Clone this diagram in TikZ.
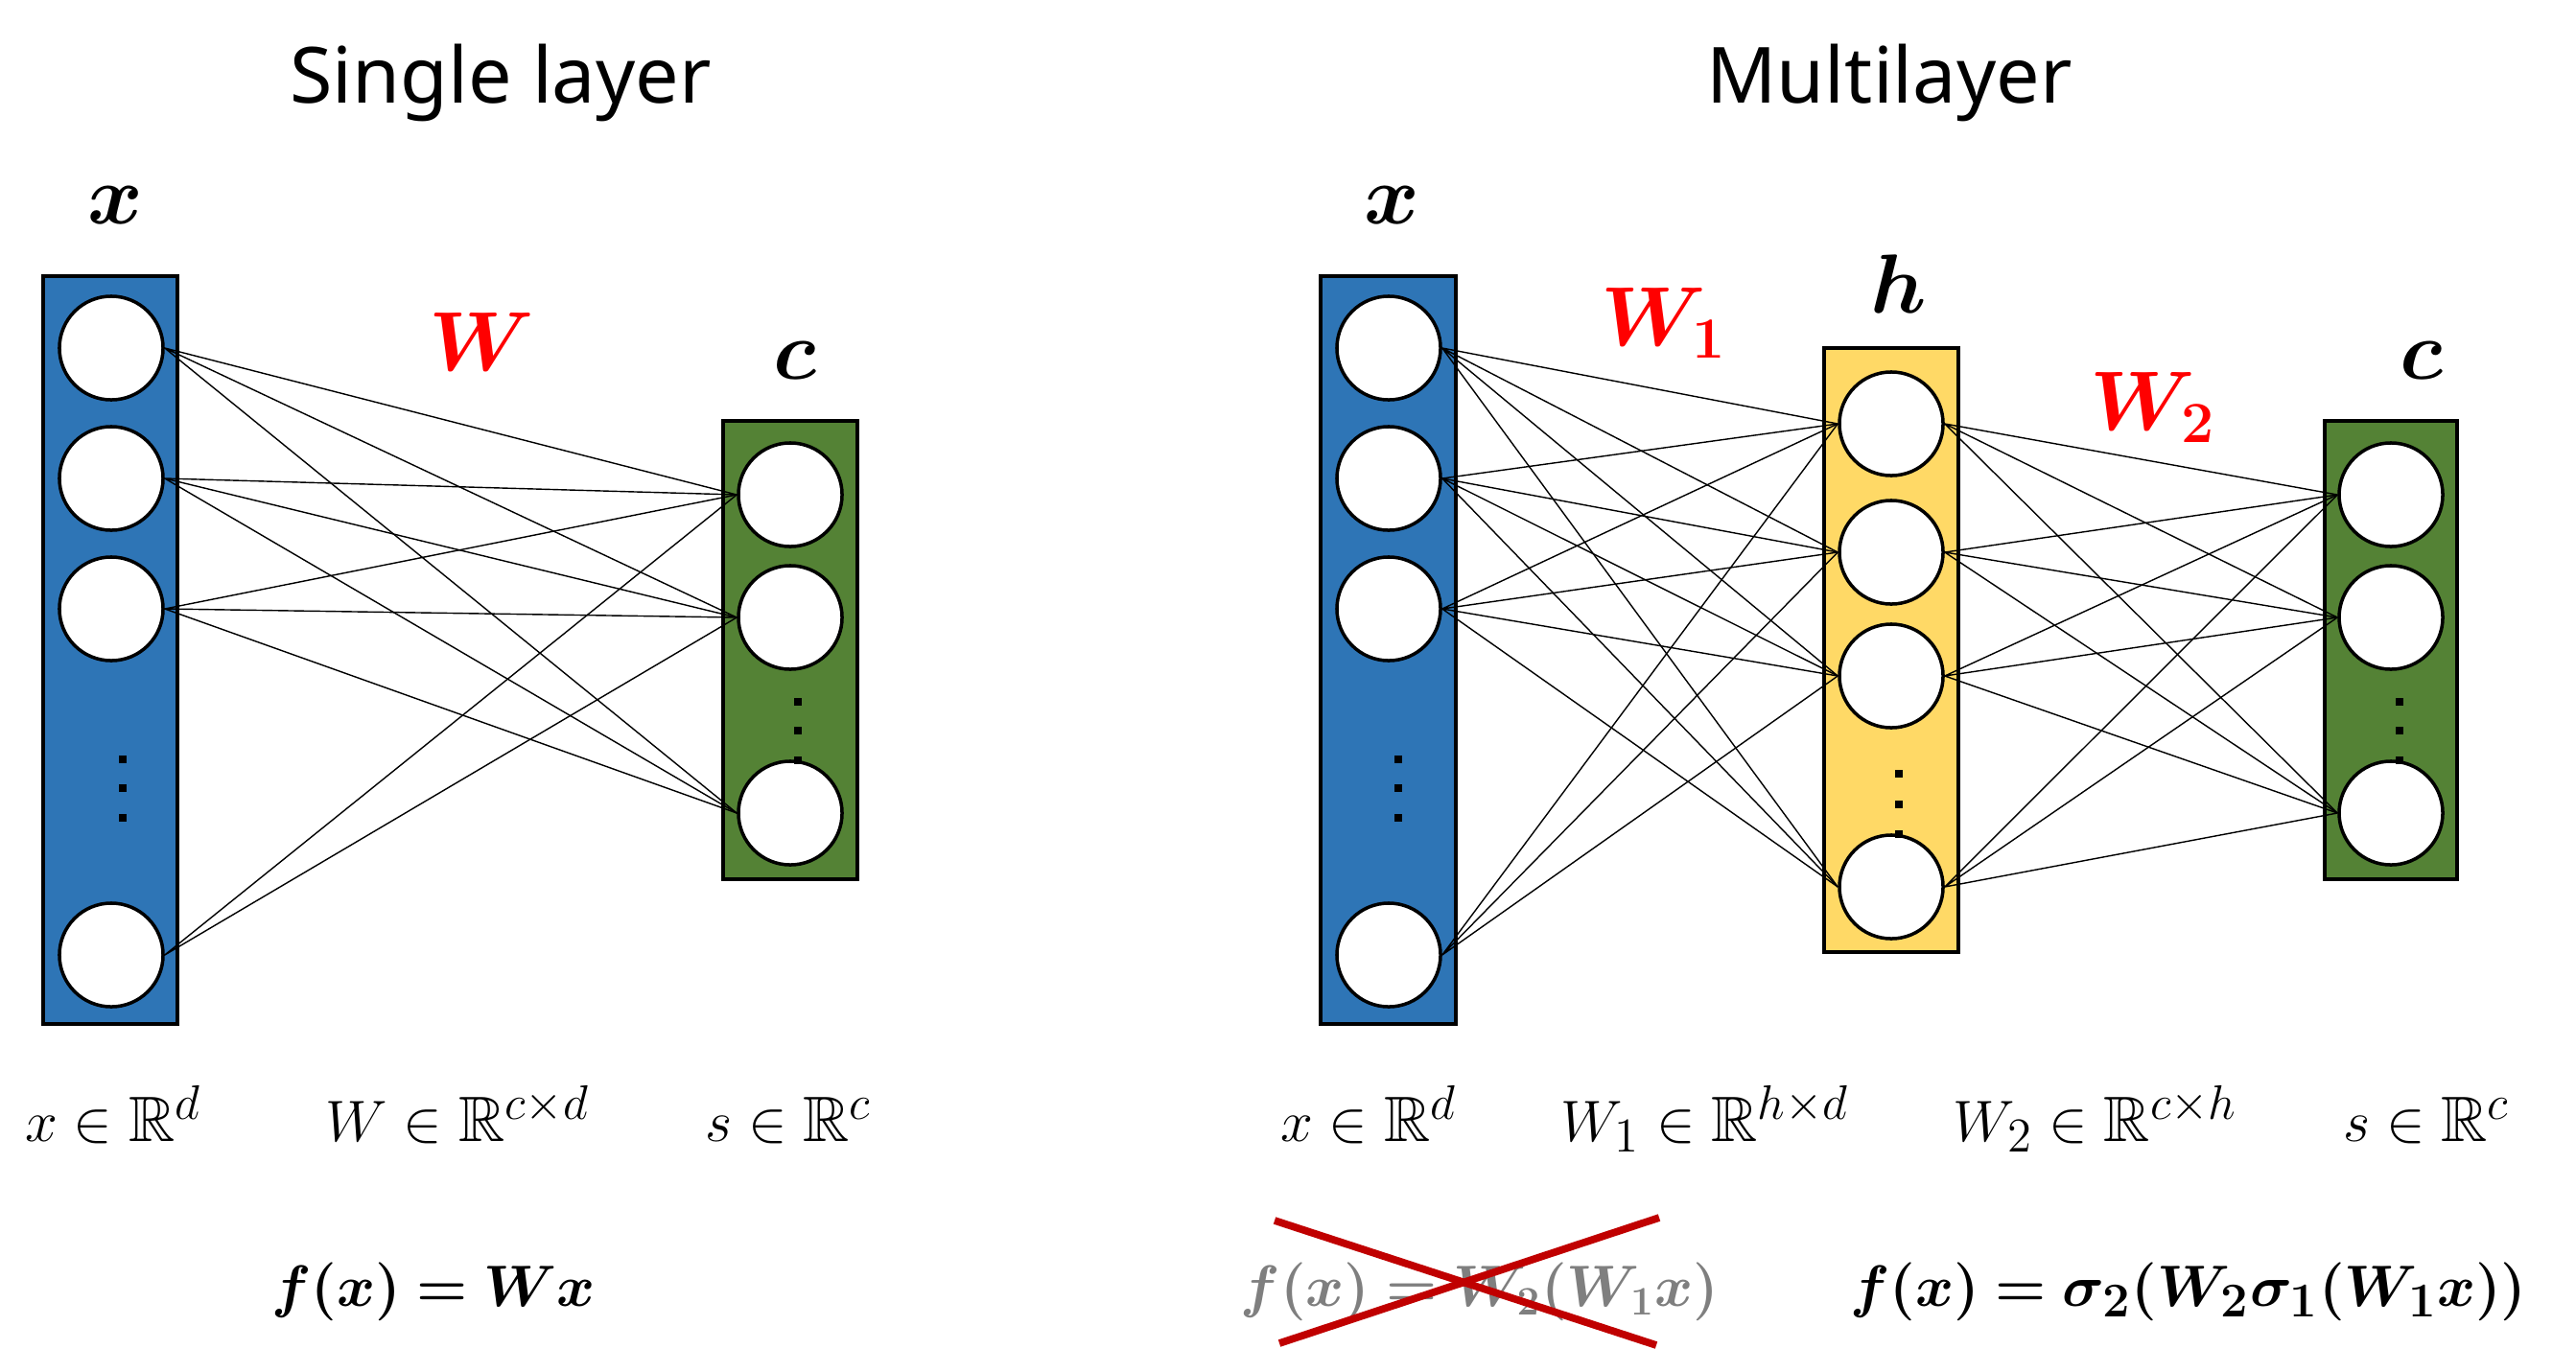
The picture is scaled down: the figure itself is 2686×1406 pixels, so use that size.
\documentclass[tikz,border=0pt]{standalone}
\usepackage{amsmath,amssymb,bm}
\usepackage{fontspec}
\newfontfamily\titlefont{Noto Sans}
\definecolor{xblue}{HTML}{2E75B6}
\definecolor{cgreen}{HTML}{548235}
\definecolor{hyellow}{HTML}{FFD966}
\definecolor{wred}{HTML}{FF0000}
\definecolor{crossred}{HTML}{C00000}
\definecolor{oldgray}{HTML}{7F7F7F}
\begin{document}
\begin{tikzpicture}[x=0.01cm,y=-0.01cm,
  neuron/.style={circle,draw,line width=1pt,fill=white,minimum size=1.08cm,inner sep=0pt},
  layerbox/.style={draw,line width=1.3pt},
  link/.style={line width=0.4pt},
  vdot/.style={rectangle,fill,minimum size=0.08cm,inner sep=0pt},
  title/.style={anchor=base,font=\titlefont\fontsize{23}{28}\selectfont},
  veclabel/.style={anchor=base,font=\fontsize{24}{29}\selectfont},
  dimlabel/.style={anchor=base,font=\fontsize{19}{23}\selectfont},
  funclabel/.style={anchor=base,font=\fontsize{18.5}{22}\selectfont}]
\useasboundingbox (0,0) rectangle (2686,1406);

\node[title] (t1) at (522,107) {Single layer};
\node[title] (t2) at (1970,107) {Multilayer};

\filldraw[layerbox,fill=xblue] (45,288) rectangle (185,1068);
\filldraw[layerbox,fill=cgreen] (754,439) rectangle (894,917);
\node[neuron] (x1) at (116,363) {};
\node[neuron] (x2) at (116,499) {};
\node[neuron] (x3) at (116,635) {};
\node[neuron] (x4) at (116,996) {};
\node[vdot] (xd1) at (128,792) {};
\node[vdot] (xd2) at (128,822) {};
\node[vdot] (xd3) at (128,853) {};
\node[neuron] (c1) at (824,516) {};
\node[neuron] (c2) at (824,644) {};
\node[neuron] (c3) at (824,848) {};
\node[vdot] (cd1) at (832,732) {};
\node[vdot] (cd2) at (832,762) {};
\node[vdot] (cd3) at (832,793) {};

\draw[link] (x1.east) -- (c1.west) (x1.east) -- (c2.west) (x1.east) -- (c3.west);
\draw[link] (x2.east) -- (c1.west) (x2.east) -- (c2.west) (x2.east) -- (c3.west);
\draw[link] (x3.east) -- (c1.west) (x3.east) -- (c2.west) (x3.east) -- (c3.west);
\draw[link] (x4.east) -- (c1.west) (x4.east) -- (c2.west);

\node[veclabel] (xlab) at (120,233) {$\bm{x}$};
\node[veclabel,text=wred] (wlab) at (502,386) {$\bm{W}$};
\node[veclabel] (clab) at (829,395) {$\bm{c}$};

\filldraw[layerbox,fill=xblue] (1377,288) rectangle (1518,1068);
\filldraw[layerbox,fill=hyellow] (1902,363) rectangle (2042,993);
\filldraw[layerbox,fill=cgreen] (2424,439) rectangle (2562,917);
\node[neuron] (mx1) at (1448,363) {};
\node[neuron] (mx2) at (1448,499) {};
\node[neuron] (mx3) at (1448,635) {};
\node[neuron] (mx4) at (1448,996) {};
\node[vdot] (mxd1) at (1458,792) {};
\node[vdot] (mxd2) at (1458,822) {};
\node[vdot] (mxd3) at (1458,853) {};
\node[neuron] (h1) at (1972,442) {};
\node[neuron] (h2) at (1972,576) {};
\node[neuron] (h3) at (1972,705) {};
\node[neuron] (h4) at (1972,925) {};
\node[vdot] (hd1) at (1980,807) {};
\node[vdot] (hd2) at (1980,839) {};
\node[vdot] (hd3) at (1980,870) {};
\node[neuron] (mc1) at (2493,516) {};
\node[neuron] (mc2) at (2493,644) {};
\node[neuron] (mc3) at (2493,848) {};
\node[vdot] (mcd1) at (2502,732) {};
\node[vdot] (mcd2) at (2502,762) {};
\node[vdot] (mcd3) at (2502,793) {};

\draw[link] (mx1.east) -- (h1.west) (mx1.east) -- (h2.west) (mx1.east) -- (h3.west) (mx1.east) -- (h4.west);
\draw[link] (mx2.east) -- (h1.west) (mx2.east) -- (h2.west) (mx2.east) -- (h3.west) (mx2.east) -- (h4.west);
\draw[link] (mx3.east) -- (h1.west) (mx3.east) -- (h2.west) (mx3.east) -- (h3.west) (mx3.east) -- (h4.west);
\draw[link] (mx4.east) -- (h1.west) (mx4.east) -- (h2.west) (mx4.east) -- (h3.west);
\draw[link] (h1.east) -- (mc1.west) (h1.east) -- (mc2.west) (h1.east) -- (mc3.west);
\draw[link] (h2.east) -- (mc1.west) (h2.east) -- (mc2.west) (h2.east) -- (mc3.west);
\draw[link] (h3.east) -- (mc1.west) (h3.east) -- (mc2.west) (h3.east) -- (mc3.west);
\draw[link] (h4.east) -- (mc1.west) (h4.east) -- (mc2.west) (h4.east) -- (mc3.west);

\node[veclabel] (mxlab) at (1451,233) {$\bm{x}$};
\node[veclabel,text=wred] (w1lab) at (1735,360) {$\bm{W_1}$};
\node[veclabel] (hlab) at (1980,326) {$\bm{h}$};
\node[veclabel,text=wred] (w2lab) at (2245,448) {$\bm{W_2}$};
\node[veclabel] (mclab) at (2525,395) {$\bm{c}$};

\node[dimlabel] (xdim) at (118,1190) {$x \in \mathbb{R}^{d}$};
\node[dimlabel] (wdim) at (477,1190) {$W \in \mathbb{R}^{c\times d}$};
\node[dimlabel] (sdim) at (822,1190) {$s \in \mathbb{R}^{c}$};
\node[funclabel] (fsingle) at (452,1362) {$\bm{f(x) = Wx}$};

\node[dimlabel] (mxdim) at (1427,1190) {$x \in \mathbb{R}^{d}$};
\node[dimlabel] (w1dim) at (1778,1190) {$W_1 \in \mathbb{R}^{h\times d}$};
\node[dimlabel] (w2dim) at (2185,1190) {$W_2 \in \mathbb{R}^{c\times h}$};
\node[dimlabel] (msdim) at (2530,1190) {$s \in \mathbb{R}^{c}$};
\node[funclabel,font=\fontsize{17.5}{21}\selectfont,text=oldgray] (fwrong) at (1543,1362) {$\bm{f(x) = W_2(W_1x)}$};
\draw[crossred,line width=2.2pt] (1329,1273) -- (1727,1403);
\draw[crossred,line width=2.2pt] (1730,1270) -- (1334,1401);
\node[funclabel,font=\fontsize{19}{23}\selectfont] (fmulti) at (2282,1362) {$\bm{f(x) = \sigma_2(W_2\sigma_1(W_1x))}$};
\end{tikzpicture}
\end{document}
